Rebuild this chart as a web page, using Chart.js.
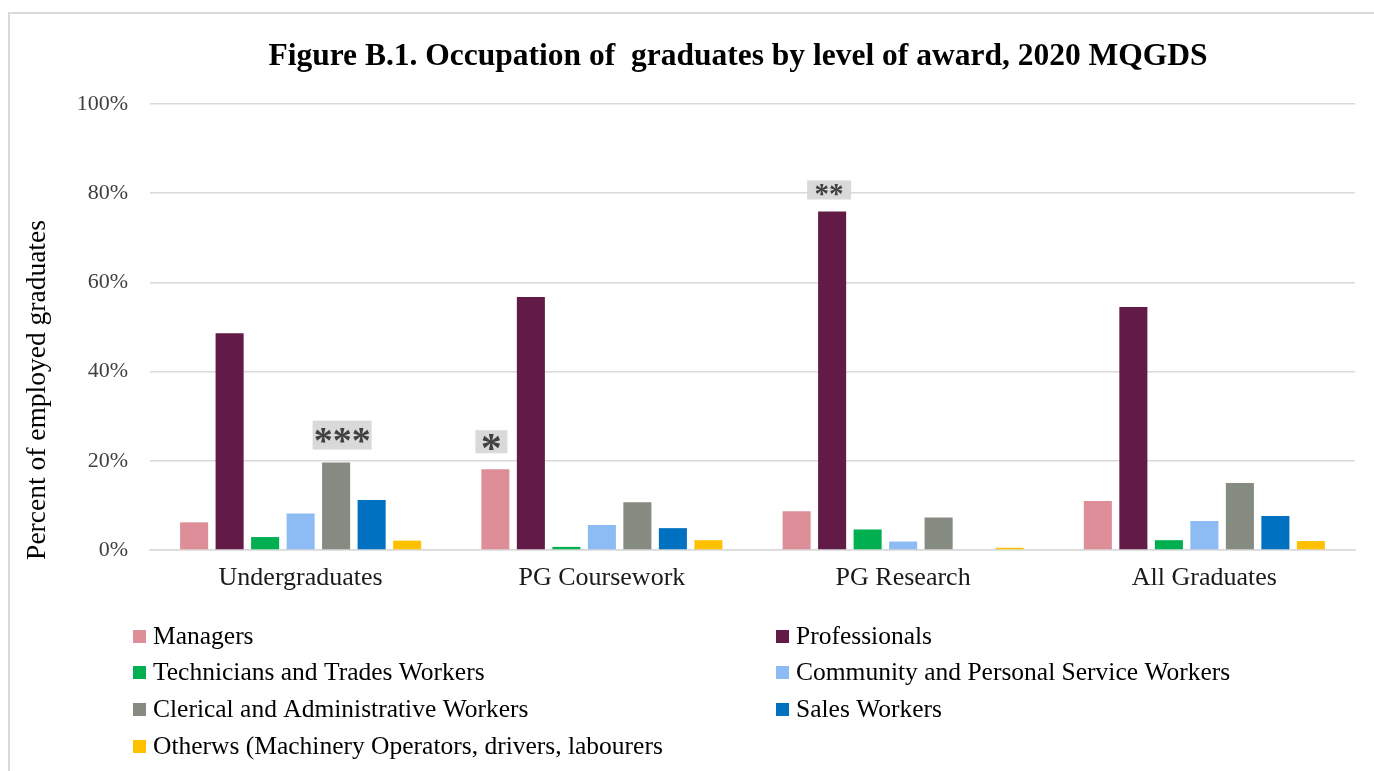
<!DOCTYPE html>
<html>
<head>
<meta charset="utf-8">
<script src="https://cdn.jsdelivr.net/npm/chart.js@4.4.1/dist/chart.umd.min.js"></script>
<style>
  html, body { margin: 0; padding: 0; background: #fff; }
  #marco { position: absolute; left: 0; top: 0; width: 1374px; height: 771px; overflow: hidden; }
  #borde { position: absolute; left: 8px; top: 12px; width: 1400px; height: 800px; border: 2px solid #d9d9d9; box-sizing: border-box; }
  #grafica { position: absolute; left: 0; top: 0; }
</style>
</head>
<body>
<div id="marco">
  <div id="borde"></div>
  <canvas id="grafica" width="1374" height="771"></canvas>
</div>
<script>
// Ocupacion de egresados por nivel de titulo (porcentajes)
const categorias = ["Undergraduates", "PG Coursework", "PG Research", "All Graduates"];
const ocupaciones = [
  "Managers",
  "Professionals",
  "Technicians and Trades Workers",
  "Community and Personal Service Workers",
  "Clerical and Administrative Workers",
  "Sales Workers",
  "Otherws (Machinery Operators, drivers, labourers"
];
const managers = [6.2, 18.1, 8.7, 11.0];
const professionals = [48.6, 56.7, 75.9, 54.5];
const technicians = [2.9, 0.7, 4.6, 2.2];
const community = [8.2, 5.6, 1.9, 6.5];
const clerical = [19.6, 10.7, 7.3, 15.0];
const sales = [11.2, 4.9, 0, 7.6];
const others = [2.1, 2.2, 0.5, 2.0];
const colores = ["#dd8e99", "#621a47", "#00b050", "#8dbcf5", "#868b82", "#0070c0", "#ffc000"];

const series = [managers, professionals, technicians, community, clerical, sales, others];

// Marcas de significancia sobre barras concretas (serie, categoria)
const marcas = [
  { texto: "***", serie: 4, indice: 0, size: 38, w: 59, h: 29, dx: 6, gap: 13 },
  { texto: "*", serie: 0, indice: 1, size: 42, w: 32, h: 23, dx: -4, gap: 16 },
  { texto: "**", serie: 1, indice: 2, size: 29, w: 44, h: 19, dx: -3, gap: 12 }
];

const FUENTE = "'Liberation Serif', 'Times New Roman', serif";

const titulo = {
  id: "titulo",
  afterDraw(chart) {
    const { ctx } = chart;
    ctx.save();
    ctx.fillStyle = "#000";
    ctx.font = `bold 31.5px ${FUENTE}`;
    ctx.textAlign = "center";
    ctx.textBaseline = "middle";
    ctx.fillText("Figure B.1. Occupation of  graduates by level of award, 2020 MQGDS", 738, 57);

    // titulo del eje Y
    ctx.font = `27.5px ${FUENTE}`;
    ctx.translate(38, 390);
    ctx.rotate(-Math.PI / 2);
    ctx.fillText("Percent of employed graduates", 0, 0);
    ctx.restore();
  }
};

const etiquetasSignificancia = {
  id: "etiquetasSignificancia",
  afterDatasetsDraw(chart) {
    const { ctx } = chart;
    ctx.save();
    marcas.forEach(m => {
      const bar = chart.getDatasetMeta(m.serie).data[m.indice];
      const cx = bar.x + m.dx;
      const bottom = bar.y - m.gap;
      ctx.fillStyle = "#d9d9d9";
      ctx.fillRect(cx - m.w / 2, bottom - m.h, m.w, m.h);
      ctx.font = `bold ${m.size}px ${FUENTE}`;
      const med = ctx.measureText(m.texto);
      const alto = med.actualBoundingBoxAscent + med.actualBoundingBoxDescent;
      ctx.fillStyle = "#404040";
      ctx.textAlign = "center";
      ctx.textBaseline = "alphabetic";
      ctx.fillText(m.texto, cx, bottom - m.h / 2 + alto / 2 - med.actualBoundingBoxDescent);
    });
    ctx.restore();
  }
};

// Leyenda en dos columnas bajo la grafica
const leyenda = {
  id: "leyenda",
  afterDraw(chart) {
    const { ctx } = chart;
    const columnas = [133, 776];
    const filas = [636, 672, 709, 746];
    ctx.save();
    ctx.font = `25.5px ${FUENTE}`;
    ctx.textBaseline = "middle";
    ctx.textAlign = "left";
    chart.data.datasets.forEach((ds, i) => {
      const x = columnas[i % 2];
      const y = filas[Math.floor(i / 2)];
      ctx.fillStyle = ds.backgroundColor;
      ctx.fillRect(x, y - 6, 13, 13);
      ctx.fillStyle = "#000";
      ctx.fillText(ds.label, x + 20, y + 1);
    });
    ctx.restore();
  }
};

new Chart(document.getElementById("grafica"), {
  type: "bar",
  data: {
    labels: categorias,
    datasets: ocupaciones.map((nombre, i) => ({
      label: nombre,
      data: series[i],
      backgroundColor: colores[i],
      borderWidth: 0,
      categoryPercentage: 0.825,
      barPercentage: 0.79
    }))
  },
  options: {
    responsive: false,
    animation: false,
    layout: { padding: { left: 0, right: 19, top: 104, bottom: 171 } },
    plugins: {
      legend: { display: false },
      tooltip: { enabled: false }
    },
    scales: {
      y: {
        min: 0,
        max: 100,
        afterFit: scale => { scale.width = 150; },
        ticks: {
          stepSize: 20,
          padding: 22,
          color: "#404040",
          font: { family: FUENTE, size: 22 },
          callback: v => `${v}%`
        },
        grid: { color: "#d9d9d9", lineWidth: 1.5, drawTicks: false },
        border: { display: false }
      },
      x: {
        afterFit: scale => { scale.height = 50; },
        ticks: {
          padding: 13,
          color: "#1a1a1a",
          font: { family: FUENTE, size: 26 }
        },
        grid: { display: false, drawTicks: false },
        border: { color: "#d9d9d9", width: 1.5 }
      }
    }
  },
  plugins: [titulo, etiquetasSignificancia, leyenda]
});
</script>
</body>
</html>
